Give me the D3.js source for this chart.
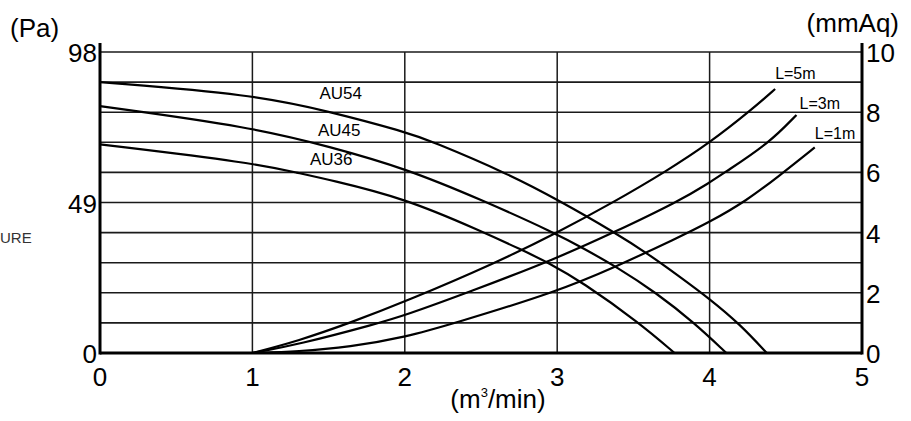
<!DOCTYPE html>
<html>
<head>
<meta charset="utf-8">
<script src="https://cdn.jsdelivr.net/npm/d3@7/dist/d3.min.js"></script>
<style>
  html, body { margin: 0; padding: 0; background: #fff; }
  svg { display: block; font-family: "Liberation Sans", Arial, sans-serif; }
</style>
</head>
<body>
<svg id="chart" width="911" height="421"></svg>
<script>
// ---- data (flow m3/min, static pressure mmAq) ----
const xTicks = [0, 1, 2, 3, 4, 5];
const mmAqTicks = [0, 2, 4, 6, 8, 10];
const paTicks = [0, 49, 98];
const gridLevels = [0, 1, 2, 3, 4, 5, 6, 7, 8, 9, 10];

const au54 = [[0, 9.0], [1, 8.59], [1.51, 8.02], [2, 7.35], [2.17, 7.05], [2.68, 5.95], [3, 5.1], [3.38, 4.0], [3.6, 3.28], [3.8, 2.55], [4.0, 1.8], [4.2, 0.95], [4.375, 0]];
const au45 = [[0, 8.2], [1, 7.5], [1.51, 6.85], [2, 6.14], [2.5, 5.1], [3, 3.95], [3.17, 3.48], [3.39, 2.86], [3.65, 2.0], [3.9, 1.0], [4.11, 0]];
const au36 = [[0, 6.93], [1, 6.32], [1.31, 5.97], [1.5, 5.76], [2, 5.14], [2.5, 4.05], [2.77, 3.42], [2.95, 2.98], [3.16, 2.37], [3.54, 1.0], [3.77, 0]];

const l5m = [[1, 0], [1.3, 0.4], [1.64, 1.0], [2, 1.7], [2.6, 3.0], [3, 4.0], [3.36, 4.98], [3.72, 6.05], [4, 6.98], [4.28, 8.1], [4.43, 8.77]];
const l3m = [[1, 0], [1.3, 0.28], [1.815, 0.97], [2, 1.25], [2.41, 2.0], [3, 3.15], [3.37, 4.0], [3.8, 5.05], [4, 5.66], [4.1, 6.0], [4.39, 6.97], [4.57, 7.91]];
const l1m = [[1, 0], [1.3, 0.05], [1.64, 0.2], [2, 0.52], [2.32, 0.98], [3, 2.04], [3.39, 2.88], [3.78, 3.8], [4, 4.35], [4.24, 5.05], [4.46, 5.9], [4.69, 6.83]];

const fanNames = ["AU54", "AU45", "AU36"];
const ductNames = ["L=5m", "L=3m", "L=1m"];

// ---- layout ----
const svg = d3.select("#chart");
const x = d3.scaleLinear().domain([0, 5]).range([100, 862]);
const y = d3.scaleLinear().domain([0, 10]).range([353, 52]);
const yPa = d3.scaleLinear().domain([0, 98]).range([353, 52]);

const big = 26, small = 17;

// horizontal grid
svg.append("g").selectAll("line").data(gridLevels).join("line")
  .attr("x1", x(0)).attr("x2", x(5))
  .attr("y1", d => y(d)).attr("y2", d => y(d))
  .attr("stroke", "#1a1a1a").attr("stroke-width", 1.6);

// vertical grid
svg.append("g").selectAll("line").data(xTicks.slice(1, -1)).join("line")
  .attr("x1", d => x(d)).attr("x2", d => x(d))
  .attr("y1", y(10)).attr("y2", y(0))
  .attr("stroke", "#1a1a1a").attr("stroke-width", 1.5);

// axes frame (left, right, bottom)
svg.append("line").attr("x1", x(0)).attr("x2", x(0)).attr("y1", y(10) - 9).attr("y2", y(0) + 1.5)
  .attr("stroke", "#000").attr("stroke-width", 3);
svg.append("line").attr("x1", x(5)).attr("x2", x(5)).attr("y1", y(10) - 9).attr("y2", y(0) + 1.5)
  .attr("stroke", "#000").attr("stroke-width", 3);
svg.append("line").attr("x1", x(0)).attr("x2", x(5)).attr("y1", y(0)).attr("y2", y(0))
  .attr("stroke", "#000").attr("stroke-width", 3);

// curves
const line = d3.line().x(d => x(d[0])).y(d => y(d[1])).curve(d3.curveBasis);
const curves = [au54, au45, au36, l5m, l3m, l1m];
svg.append("g").selectAll("path").data(curves).join("path")
  .attr("d", line).attr("fill", "none").attr("stroke", "#000").attr("stroke-width", 2.2);

// curve labels
const fanLabelPos = [[1.44, 8.44], [1.43, 7.21], [1.378, 6.23]];
svg.append("g").selectAll("text").data(fanNames).join("text")
  .attr("x", (d, i) => x(fanLabelPos[i][0])).attr("y", (d, i) => y(fanLabelPos[i][1]))
  .attr("font-size", small).text(d => d);
const ductLabelPos = [[4.43, 9.09], [4.59, 8.1], [4.69, 7.1]];
svg.append("g").selectAll("text").data(ductNames).join("text")
  .attr("x", (d, i) => x(ductLabelPos[i][0])).attr("y", (d, i) => y(ductLabelPos[i][1]))
  .attr("font-size", small - 1).text(d => d);

// x tick labels
svg.append("g").selectAll("text").data(xTicks).join("text")
  .attr("x", d => x(d)).attr("y", 386)
  .attr("text-anchor", "middle").attr("font-size", big).text(d => d);

// left Pa labels
svg.append("g").selectAll("text").data(paTicks).join("text")
  .attr("x", x(0) - 3).attr("y", d => yPa(d) + 10)
  .attr("text-anchor", "end").attr("font-size", big).text(d => d);

// right mmAq labels
svg.append("g").selectAll("text").data(mmAqTicks).join("text")
  .attr("x", x(5) + 4).attr("y", d => y(d) + 10)
  .attr("text-anchor", "start").attr("font-size", big).text(d => d);

// unit labels
svg.append("text").attr("x", 10).attr("y", 37).attr("font-size", big).text("(Pa)");
svg.append("text").attr("x", 899).attr("y", 32).attr("text-anchor", "end").attr("font-size", big).text("(mmAq)");
const xl = svg.append("text").attr("x", 498).attr("y", 408).attr("text-anchor", "middle").attr("font-size", big);
xl.append("tspan").text("(m");
xl.append("tspan").attr("font-size", 13).attr("dy", -11).text("3");
xl.append("tspan").attr("dy", 11).text("/min)");

// side label (only its tail is visible in the reference)
svg.append("text").attr("x", 0).attr("y", 243).attr("font-size", 15).attr("fill", "#333").text("URE");
</script>
</body>
</html>
